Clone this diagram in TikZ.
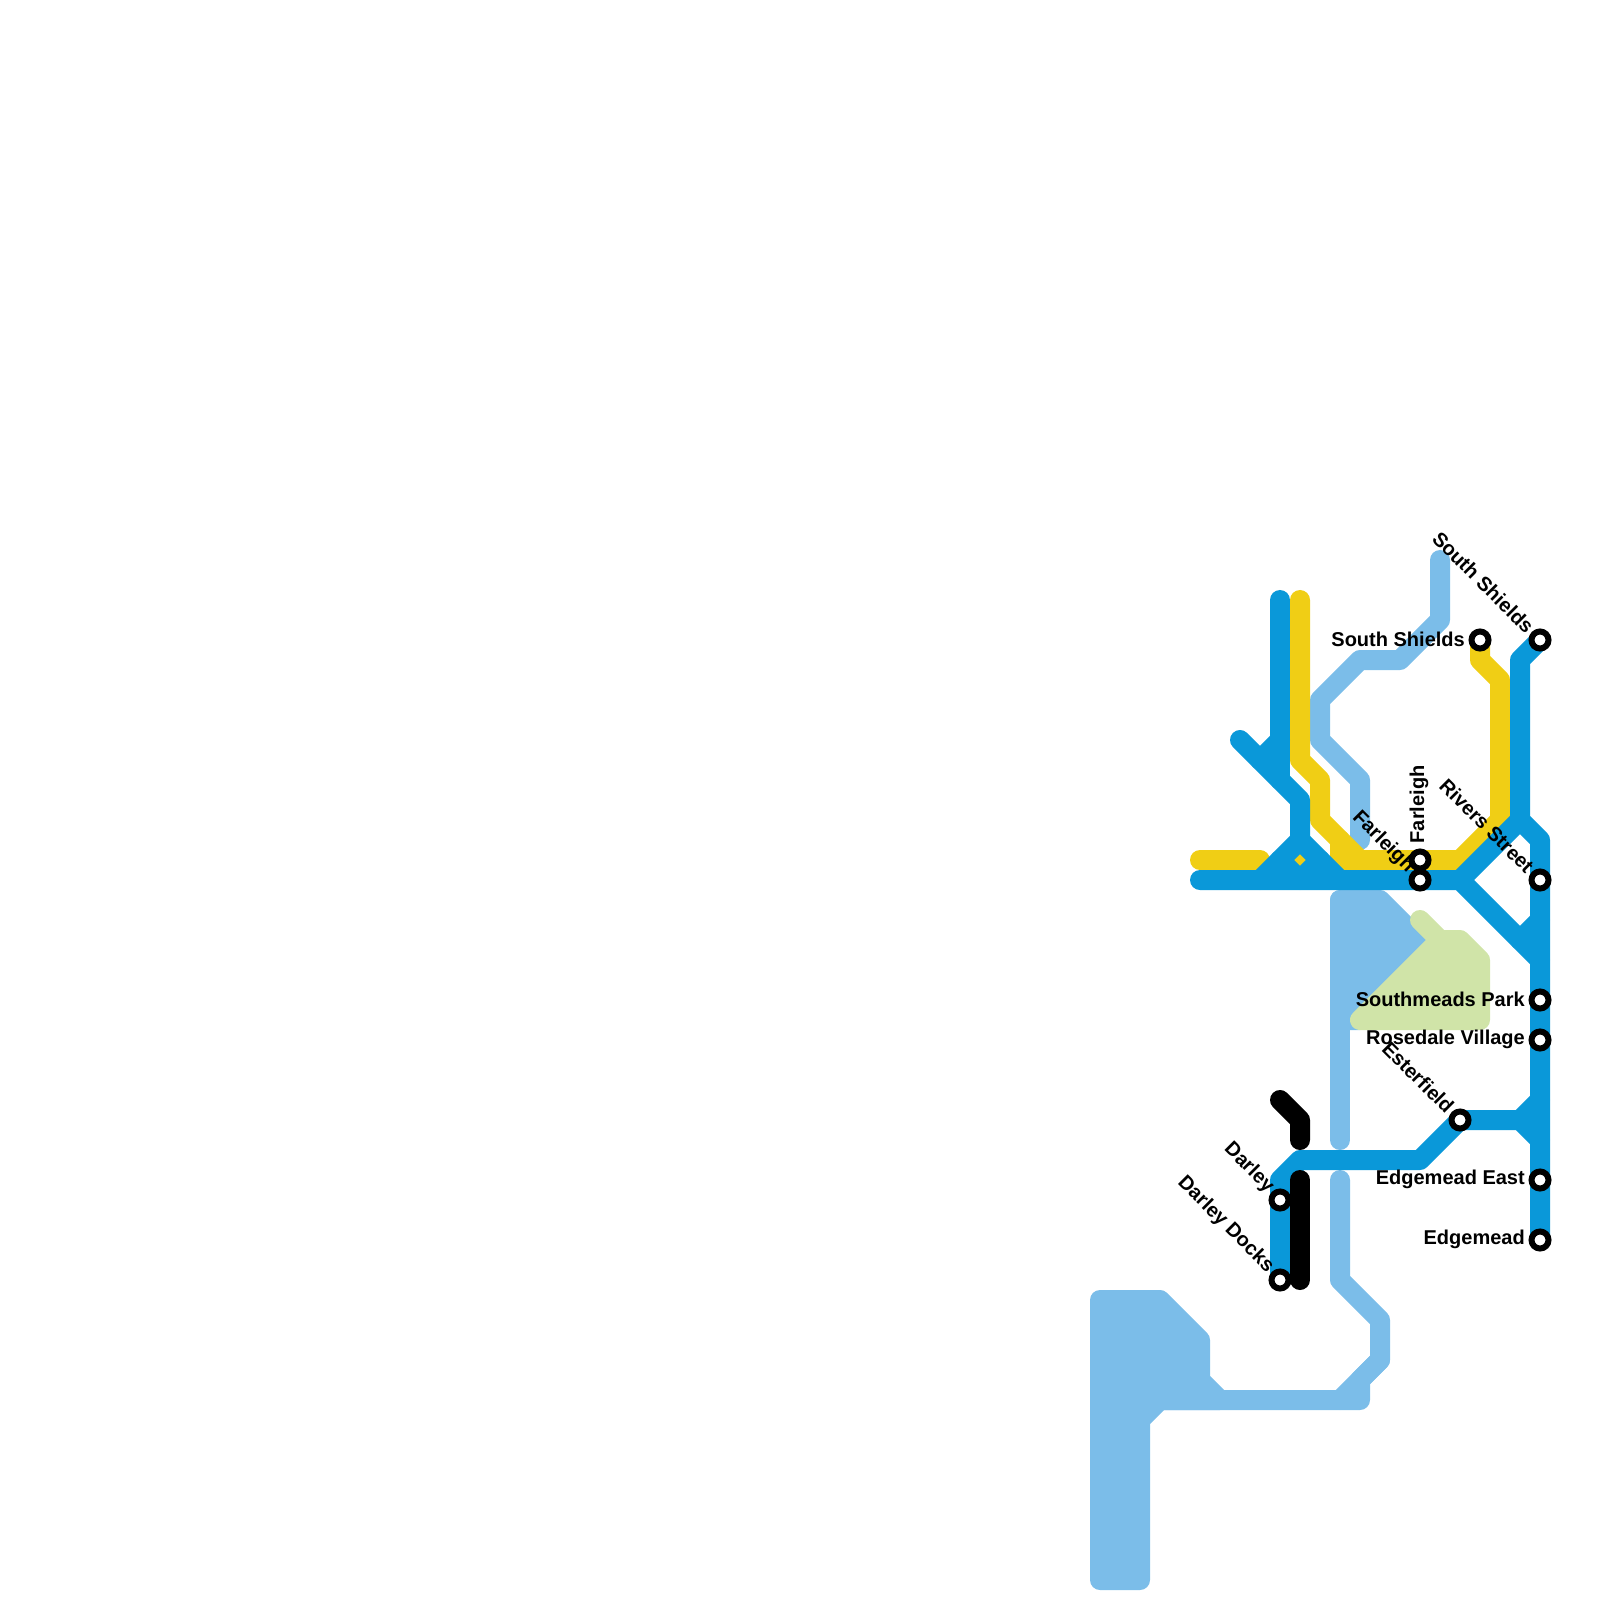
\documentclass[tikz,border=0pt]{standalone}
\usepackage{fontspec}
\setmainfont{Liberation Sans}
\definecolor{lineblue}{HTML}{0A98D9}
\definecolor{paleblue}{HTML}{7BBDE9}
\definecolor{lineyellow}{HTML}{F0CE15}
\definecolor{palegreen}{HTML}{D0E4A8}
\usetikzlibrary{positioning}
\tikzset{
  metro/.style={line width=0.2cm, line cap=round, line join=round},
  station/.style={circle, draw=black, fill=white, line width=0.06cm, minimum size=0.17cm, inner sep=0pt},
  stlabel/.style={font=\fontsize{5.69}{6.8}\selectfont\bfseries, inner sep=0pt, text=black}
}
\begin{document}
\begin{tikzpicture}[x=0.01cm, y=-0.01cm]
\useasboundingbox (0,0) rectangle (1600,1600);

% Pale blue shapes
\draw[metro, paleblue] (1440,560) -- (1440,620) -- (1400,660) -- (1360,660) -- (1320,700) -- (1320,740) -- (1360,780) -- (1360,840);
\draw[metro, paleblue, fill=paleblue] (1340,900) -- (1380,900) -- (1420,940) -- (1360,1020) -- (1340,1020) -- cycle;
\draw[metro, paleblue] (1340,900) -- (1340,1140);
\draw[metro, paleblue, fill=paleblue] (1100,1300) -- (1160,1300) -- (1200,1340) -- (1200,1380) -- (1220,1400) -- (1160,1400) -- (1140,1420) -- (1140,1580) -- (1100,1580) -- cycle;
\draw[metro, paleblue] (1160,1400) -- (1360,1400) -- (1360,1380) -- (1380,1360) -- (1380,1320) -- (1340,1280) -- (1340,1180);
\draw[metro, paleblue] (1340,1400) -- (1380,1360);

% Green shape
\draw[metro, palegreen, fill=palegreen] (1360,1020) -- (1440,940) -- (1460,940) -- (1480,960) -- (1480,1020) -- cycle;
\draw[metro, palegreen] (1420,920) -- (1440,940);

% Yellow lines
\draw[metro, lineyellow] (1300,600) -- (1300,760) -- (1320,780) -- (1320,820) -- (1360,860) -- (1460,860) -- (1500,820) -- (1500,680) -- (1480,660) -- (1480,640);
\draw[metro, lineyellow] (1340,840) -- (1340,860) -- (1360,860);
\draw[metro, lineyellow] (1200,860) -- (1260,860);
\draw[metro, lineyellow] (1298,860) -- (1302,860);

% Blue lines
\draw[metro, lineblue] (1200,880) -- (1460,880) -- (1540,960);
\draw[metro, lineblue] (1460,880) -- (1520,820);
\draw[metro, lineblue] (1280,600) -- (1280,780);
\draw[metro, lineblue] (1240,740) -- (1300,800) -- (1300,840) -- (1260,880);
\draw[metro, lineblue] (1260,760) -- (1280,740);
\draw[metro, lineblue] (1300,840) -- (1340,880);
\draw[metro, lineblue] (1280,860) -- (1300,880) -- (1320,860);
\draw[metro, lineblue] (1540,640) -- (1520,660) -- (1520,820) -- (1540,840) -- (1540,1240);
\draw[metro, lineblue] (1520,940) -- (1540,920);
\draw[metro, lineblue] (1280,1280) -- (1280,1180) -- (1300,1160) -- (1420,1160) -- (1460,1120) -- (1520,1120) -- (1540,1100);
\draw[metro, lineblue] (1520,1120) -- (1540,1140);

% Black lines
\draw[metro, black] (1280,1100) -- (1300,1120) -- (1300,1140);
\draw[metro, black] (1300,1180) -- (1300,1280);

% Stations
\foreach \n/\x/\y in {shieldsw/1480/640, shieldse/1540/640, farleighn/1420/860, farleighs/1420/880,
    rivers/1540/880, southmeads/1540/1000, rosedale/1540/1040, esterfield/1460/1120,
    edgeeast/1540/1180, edgemead/1540/1240, darley/1280/1200, docks/1280/1280}
  \node[station] (\n) at (\x,\y) {};

% Labels
\foreach \n/\t in {shieldsw/South Shields, southmeads/Southmeads Park, rosedale/Rosedale Village, edgeeast/Edgemead East, edgemead/Edgemead}
  \node[stlabel, left=0.03cm of \n, yshift=0.01cm] (l\n) {\t};
\node[stlabel, rotate=90, anchor=west] (lfarleighn) at ([xshift=-0.01cm, yshift=0.16cm]farleighn) {Farleigh};
\foreach \n/\t in {shieldse/South Shields, farleighs/Farleigh, rivers/Rivers Street, esterfield/Esterfield, darley/Darley, docks/Darley Docks}
  \node[stlabel, rotate=-45, anchor=east] (l\n) at ([xshift=-0.09cm, yshift=0.10cm]\n) {\t};
\end{tikzpicture}
\end{document}
